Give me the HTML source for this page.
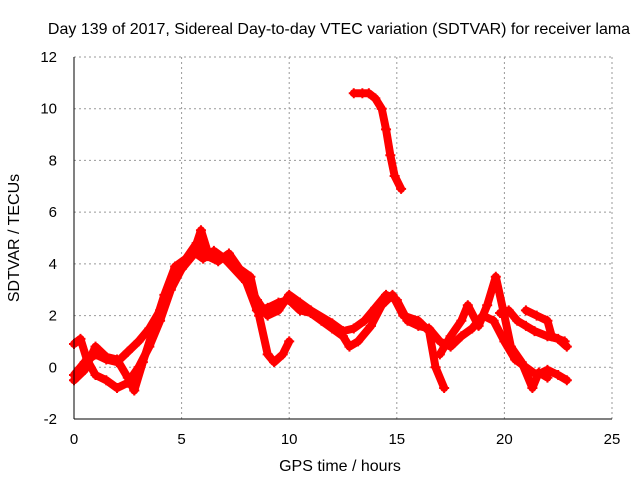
<!DOCTYPE html>
<html><head><meta charset="utf-8"><style>
body{margin:0;background:#fff;}
svg{font-family:"Liberation Sans",sans-serif;font-size:15px;}
</style></head><body>
<svg id="c" width="640" height="480" xmlns="http://www.w3.org/2000/svg">
<rect width="640" height="480" fill="#fff"/>
<text x="339" y="34" text-anchor="middle" font-size="16">Day 139 of 2017, Sidereal Day-to-day VTEC variation (SDTVAR) for receiver lama</text>
<text x="340" y="471" text-anchor="middle" font-size="16">GPS time / hours</text>
<text transform="translate(19,238) rotate(-90)" text-anchor="middle" font-size="16">SDTVAR / TECUs</text>
<g id="grid"></g><g id="ticks"></g><g id="marks"></g>
<line x1="74" y1="57" x2="74" y2="419" stroke="#000"/>
<line x1="74" y1="419" x2="612" y2="419" stroke="#000"/>
</svg>
<script>
const xTicks=[0,5,10,15,20,25];
const yTicks=[-2,0,2,4,6,8,10,12];
const sA_x=[0,0.5,1,1.5,2,2.5,3,3.5,4,4.5,5,5.5,5.9,6.2,7,7.5,8,8.5,9,9.5,10,10.5,11,12,12.5,13,13.5,14,14.5,15,15.5,16,16.5,17,17.5,18,18.5,19,19.5,20,20.5,21,21.5,22,22.5,22.9];
const sA_y=[-0.3,0.2,0.5,0.3,0.2,0.6,1,1.5,2.2,3.2,3.8,4.3,5.3,4.5,4.2,4,3.3,2.6,2.0,2.2,2.8,2.5,2.2,1.7,1.4,1.5,1.8,2.3,2.8,2.6,1.8,1.6,1.5,1.0,0.8,1.2,1.5,2.0,1.8,1.0,0.3,0,-0.3,-0.1,-0.3,-0.5];
const sB_x=[0,0.5,1,1.5,2,2.5,2.8,3.2,3.7,4.2,4.7,5.2,5.7,6.2,6.7,7.2,7.7,8.2,8.6,9,9.3,9.7,10];
const sB_y=[-0.5,-0.1,0.8,0.4,0.3,-0.4,-0.9,0.2,1.5,2.8,3.9,4.2,4.8,4.3,4.1,4.4,3.8,3.5,2.0,0.5,0.2,0.5,1.0];
const sC_x=[0,0.3,0.6,1,1.5,2,2.5,3,3.5,4,4.5,5,5.5,6,6.5,7,8,8.5,9,9.5,10,10.5,11,11.5,12,12.5,12.8,13.2,13.8,14.3,14.8,15.3,16,16.5,16.8,17.2];
const sC_y=[0.9,1.1,0.3,-0.3,-0.5,-0.8,-0.6,0,0.8,1.8,3,3.8,4.5,4.2,4.5,4.2,3.3,2.2,2.3,2.5,2.6,2.2,2.1,1.8,1.5,1.2,0.8,1.0,1.6,2.4,2.8,2.0,1.8,1.4,0,-0.8];
const sD_x=[17,17.5,18,18.3,18.8,19.2,19.6,20,20.3,20.8,21.3,21.6,22];
const sD_y=[0.5,1.2,1.8,2.4,1.6,2.4,3.5,2,0.8,0.2,-0.8,-0.2,-0.4];
const sE_x=[19.8,20.2,20.6,21,21.4,22,22.5,22.9];
const sE_y=[2.1,2.2,1.8,1.6,1.4,1.2,1.1,0.8];
const sF_x=[21,21.5,22,22.2,22.8];
const sF_y=[2.2,2,1.8,1.2,1.0];
const sG_x=[13,13.4,13.7,14,14.3,14.5,14.7,14.9,15.2];
const sG_y=[10.6,10.6,10.6,10.4,10,9.2,8.2,7.4,6.9];
const series=[[sA_x,sA_y],[sB_x,sB_y],[sC_x,sC_y],[sD_x,sD_y],[sE_x,sE_y],[sF_x,sF_y],[sG_x,sG_y]];
const NS="http://www.w3.org/2000/svg";
const X=v=>74+v*538/25, Y=v=>419-(v+2)*362/14;
function mk(t,a,p){const e=document.createElementNS(NS,t);for(const k in a)e.setAttribute(k,a[k]);p.appendChild(e);return e;}
const g=document.getElementById('grid'),tk=document.getElementById('ticks'),m=document.getElementById('marks');
xTicks.forEach(v=>{
 if(v>0){const l=mk('line',{x1:X(v),x2:X(v),y1:57,y2:419,stroke:'#999','stroke-dasharray':'2,3'},g);
 
 }
 const t=mk('text',{x:X(v),y:444,'text-anchor':'middle'},tk);t.textContent=v;
 
 
});
yTicks.forEach(v=>{
 const l=mk('line',{x1:74,x2:612,y1:Y(v),y2:Y(v),stroke:'#999','stroke-dasharray':'2,3'},g);
 
 
 const t=mk('text',{x:57,y:Y(v)+5,'text-anchor':'end'},tk);t.textContent=v;
 
 
});
series.forEach((s,i)=>{
 const pts=s[0].map((x,j)=>X(x)+','+Y(s[1][j])).join(' ');
 const pl=mk('polyline',{points:pts,fill:'none',stroke:'#f00','stroke-width':8,'stroke-linejoin':'round','stroke-linecap':'round'},m);
 
 
 s[0].forEach((x,j)=>{
  const cx=X(x),cy=Y(s[1][j]);
  const p=mk('path',{d:`M${cx-5},${cy}h10M${cx},${cy-5}v10`,stroke:'#f00','stroke-width':2},m);
  
  
 });
});
</script>
</body></html>
